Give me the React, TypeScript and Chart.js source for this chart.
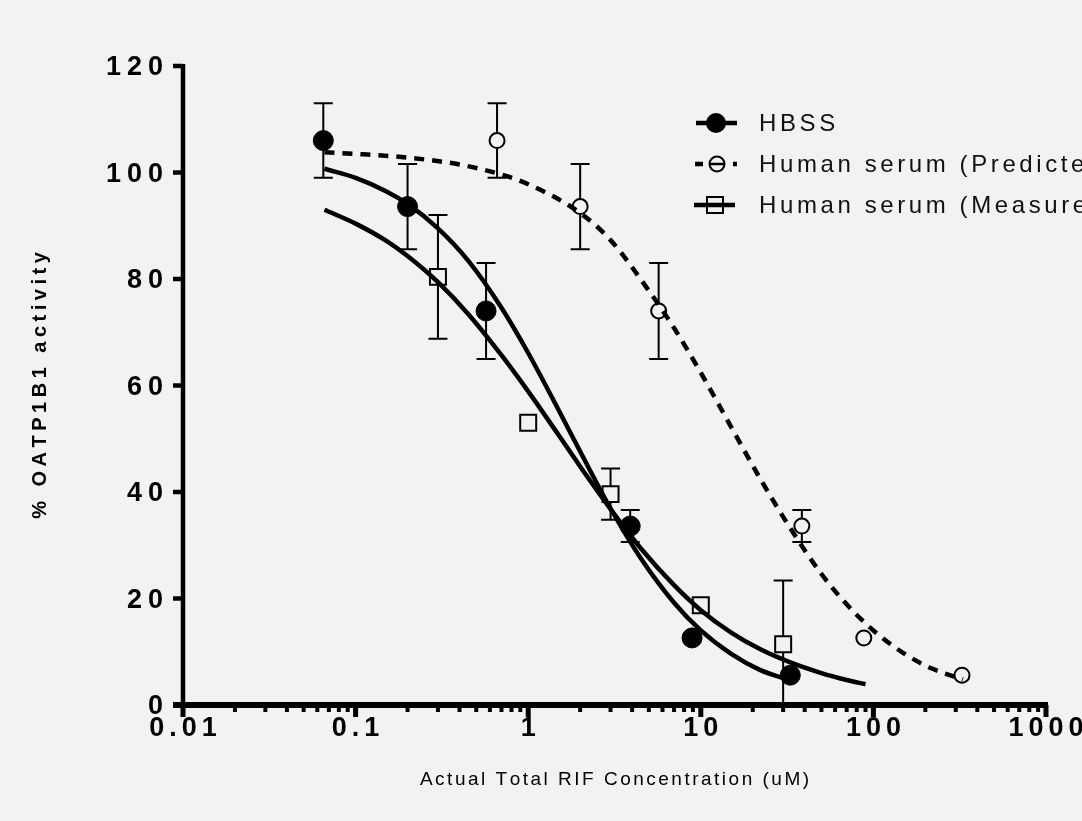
import React, { useEffect, useRef } from 'react';
import { Chart, registerables } from 'chart.js';

Chart.register(...registerables);

// ---------- data ----------
const hbssX = [0.065, 0.2, 0.57, 3.9, 8.9, 33];
const hbssY = [106, 93.6, 74, 33.6, 12.6, 5.6];
const hbssErr = [7, 8, 9, 3, 0, 0];

const predX = [0.66, 2.0, 5.7, 38.5, 88, 326];
const predY = [106, 93.6, 74, 33.6, 12.6, 5.6];
const predErr = [7, 8, 9, 3, 0, 0];

const measX = [0.3, 1, 3, 10, 30];
const measY = [80.4, 53, 39.6, 18.75, 11.4];
const measErr = [11.6, 0, 4.8, 0, 12];

// fitted curves
const hbssFitX = [0.066, 0.1, 0.15, 0.2, 0.3, 0.45, 0.7, 1, 1.5, 2, 3, 4.5, 7, 10, 15, 22, 33];
const hbssFitY = [100.7, 99, 96.5, 94.1, 89.5, 83.4, 74.6, 66.1, 55.4, 47.6, 36.9, 27.5, 19.2, 14, 9.6, 6.6, 4.6];

const measFitX = [0.066, 0.1, 0.15, 0.2, 0.3, 0.45, 0.7, 1, 1.5, 2, 3, 4.5, 7, 10, 15, 22, 33, 50, 70, 90];
const measFitY = [93, 90.4, 87.2, 84.3, 79.4, 73.4, 65.7, 58.9, 50.7, 44.8, 36.8, 29.4, 22.5, 17.8, 13.6, 10.5, 8.0, 6.0, 4.7, 3.9];

const predFitX = [0.066, 0.1, 0.2, 0.4, 0.7, 1, 2, 3, 5, 7, 10, 15, 22, 33, 50, 70, 100, 150, 220, 330];
const predFitY = [103.8, 103.5, 102.8, 101.5, 99.6, 97.8, 92.4, 87.3, 77.8, 70.8, 62.4, 52.2, 42.6, 33.2, 24.6, 18.9, 14, 9.7, 6.8, 4.8];

const xTickValues = [0.01, 0.1, 1, 10, 100, 1000];
const xTickLabels = ['0.01', '0.1', '1', '10', '100', '1000'];
const yTickValues = [0, 20, 40, 60, 80, 100, 120];
const yTickLabels = ['0', '20', '40', '60', '80', '100', '120'];

const legendLabels = ['HBSS', 'Human serum (Predicted)', 'Human serum (Measured)'];
const xTitle = 'Actual Total RIF Concentration (uM)';
const yTitle = '% OATP1B1 activity';

const BG = '#f2f2f2';
const FONT = "'Liberation Sans', Arial, sans-serif";

const pts = (xs: number[], ys: number[]) => xs.map((x, i) => ({ x, y: ys[i] }));

function spacedText(
  ctx: CanvasRenderingContext2D,
  text: string,
  x: number,
  y: number,
  spacing: number,
  align: 'left' | 'center' | 'right'
) {
  const chars = Array.from(text);
  const widths = chars.map((c) => ctx.measureText(c).width);
  const total = widths.reduce((a, b) => a + b, 0) + spacing * (chars.length - 1);
  let start = x;
  if (align === 'center') start = x - total / 2;
  else if (align === 'right') start = x - total;
  ctx.textAlign = 'left';
  let cx = start;
  chars.forEach((c, i) => {
    ctx.fillText(c, cx, y);
    cx += widths[i] + spacing;
  });
}

const bgPlugin = {
  id: 'bg',
  beforeDraw(chart: any) {
    const { ctx, width, height } = chart;
    ctx.save();
    ctx.fillStyle = BG;
    ctx.fillRect(0, 0, width, height);
    ctx.restore();
  },
};

const errorBarPlugin = {
  id: 'errbars',
  beforeDatasetsDraw(chart: any) {
    const { ctx, chartArea } = chart;
    const xs = chart.scales.x;
    const ys = chart.scales.y;
    ctx.save();
    ctx.strokeStyle = '#000';
    ctx.lineWidth = 2;
    const groups: [number[], number[], number[]][] = [
      [hbssX, hbssY, hbssErr],
      [predX, predY, predErr],
      [measX, measY, measErr],
    ];
    const cap = 9.5;
    groups.forEach(([gx, gy, ge]) => {
      gx.forEach((xv, i) => {
        const e = ge[i];
        if (!e) return;
        const px = xs.getPixelForValue(xv);
        const top = ys.getPixelForValue(gy[i] + e);
        const rawBot = ys.getPixelForValue(gy[i] - e);
        const bot = Math.min(rawBot, chartArea.bottom);
        ctx.beginPath();
        ctx.moveTo(px, top);
        ctx.lineTo(px, bot);
        ctx.moveTo(px - cap, top);
        ctx.lineTo(px + cap, top);
        if (rawBot <= chartArea.bottom) {
          ctx.moveTo(px - cap, rawBot);
          ctx.lineTo(px + cap, rawBot);
        }
        ctx.stroke();
      });
    });
    ctx.restore();
  },
};

const axesPlugin = {
  id: 'axes',
  afterDraw(chart: any) {
    const { ctx, chartArea } = chart;
    const xs = chart.scales.x;
    const ys = chart.scales.y;
    const { left, right, top, bottom } = chartArea;
    ctx.save();
    ctx.strokeStyle = '#000';
    ctx.fillStyle = '#000';
    ctx.lineCap = 'butt';

    // y axis line
    ctx.lineWidth = 4.5;
    ctx.beginPath();
    ctx.moveTo(left, top - 2);
    ctx.lineTo(left, bottom);
    ctx.stroke();
    // y ticks
    ctx.lineWidth = 4.5;
    yTickValues.forEach((v) => {
      const py = ys.getPixelForValue(v);
      ctx.beginPath();
      ctx.moveTo(left - 10, py);
      ctx.lineTo(left, py);
      ctx.stroke();
    });
    // x axis line
    ctx.lineWidth = 6;
    ctx.beginPath();
    ctx.moveTo(left - 10, bottom);
    ctx.lineTo(right + 2, bottom);
    ctx.stroke();
    // x minor ticks
    ctx.lineWidth = 4;
    for (let d = 0; d < xTickValues.length - 1; d++) {
      for (let m = 2; m <= 9; m++) {
        const px = xs.getPixelForValue(xTickValues[d] * m);
        ctx.beginPath();
        ctx.moveTo(px, bottom);
        ctx.lineTo(px, bottom + 7);
        ctx.stroke();
      }
    }
    // x major ticks
    ctx.lineWidth = 5;
    xTickValues.forEach((v) => {
      const px = xs.getPixelForValue(v);
      ctx.beginPath();
      ctx.moveTo(px, bottom);
      ctx.lineTo(px, bottom + 12);
      ctx.stroke();
    });

    // tick labels
    ctx.font = `bold 27px ${FONT}`;
    ctx.textBaseline = 'middle';
    yTickValues.forEach((v, i) => {
      spacedText(ctx, yTickLabels[i], left - 20, ys.getPixelForValue(v) + 2, 6, 'right');
    });
    xTickValues.forEach((v, i) => {
      spacedText(ctx, xTickLabels[i], xs.getPixelForValue(v), bottom + 24, 5, 'center');
    });

    // axis titles
    ctx.font = `19px ${FONT}`;
    spacedText(ctx, xTitle, (left + right) / 2, 780, 2.5, 'center');
    ctx.save();
    ctx.translate(40, (top + bottom) / 2);
    ctx.rotate(-Math.PI / 2);
    ctx.font = `bold 20px ${FONT}`;
    spacedText(ctx, yTitle, 0, 0, 4.5, 'center');
    ctx.restore();

    // legend
    const lx = 759;
    const rows = [123, 164, 205];
    ctx.font = `24px ${FONT}`;
    ctx.fillStyle = '#111';
    legendLabels.forEach((t, i) => spacedText(ctx, t, lx, rows[i] + 1, 3.6, 'left'));
    ctx.fillStyle = '#000';
    // row 1: HBSS
    ctx.lineWidth = 4.5;
    ctx.beginPath();
    ctx.moveTo(696, rows[0]);
    ctx.lineTo(737, rows[0]);
    ctx.stroke();
    ctx.beginPath();
    ctx.arc(716, rows[0], 10, 0, Math.PI * 2);
    ctx.fill();
    // row 2: predicted
    ctx.lineWidth = 4.5;
    ctx.beginPath();
    ctx.moveTo(695, rows[1]);
    ctx.lineTo(703, rows[1]);
    ctx.moveTo(733, rows[1]);
    ctx.lineTo(737, rows[1]);
    ctx.stroke();
    ctx.lineWidth = 2;
    ctx.beginPath();
    ctx.arc(717, rows[1], 7.5, 0, Math.PI * 2);
    ctx.stroke();
    ctx.lineWidth = 2.5;
    ctx.beginPath();
    ctx.moveTo(710, rows[1]);
    ctx.lineTo(724, rows[1]);
    ctx.stroke();
    // row 3: measured
    ctx.lineWidth = 2;
    ctx.fillStyle = BG;
    ctx.fillRect(707, rows[2] - 8, 16, 16);
    ctx.strokeRect(707, rows[2] - 8, 16, 16);
    ctx.lineWidth = 4.5;
    ctx.beginPath();
    ctx.moveTo(694, rows[2]);
    ctx.lineTo(735, rows[2]);
    ctx.stroke();

    ctx.restore();
  },
};

export default function App() {
  const ref = useRef<HTMLCanvasElement>(null);
  useEffect(() => {
    document.body.style.margin = '0';
    document.body.style.background = BG;
    const canvas = ref.current!;
    const chart = new Chart(canvas, {
      type: 'scatter',
      data: {
        datasets: [
          {
            label: 'HBSS fit',
            data: pts(hbssFitX, hbssFitY),
            showLine: true,
            borderColor: '#000',
            borderWidth: 4.5,
            pointRadius: 0,
            cubicInterpolationMode: 'monotone',
            order: 0,
          } as any,
          {
            label: 'Measured fit',
            data: pts(measFitX, measFitY),
            showLine: true,
            borderColor: '#000',
            borderWidth: 4.5,
            pointRadius: 0,
            cubicInterpolationMode: 'monotone',
            order: 0,
          },
          {
            label: 'Predicted fit',
            data: pts(predFitX, predFitY),
            showLine: true,
            borderColor: '#000',
            borderWidth: 4.5,
            borderDash: [10, 8],
            pointRadius: 0,
            cubicInterpolationMode: 'monotone',
            order: 0,
          },
          {
            label: 'HBSS',
            data: pts(hbssX, hbssY),
            showLine: false,
            pointStyle: 'circle',
            pointRadius: 10,
            backgroundColor: '#000',
            borderColor: '#000',
            borderWidth: 1,
            order: 1,
          },
          {
            label: 'Human serum (Predicted)',
            data: pts(predX, predY),
            showLine: false,
            pointStyle: 'circle',
            pointRadius: 7.5,
            backgroundColor: BG,
            borderColor: '#000',
            borderWidth: 2,
            order: 1,
          },
          {
            label: 'Human serum (Measured)',
            data: pts(measX, measY),
            showLine: false,
            pointStyle: 'rect',
            pointRadius: 11.3,
            backgroundColor: BG,
            borderColor: '#000',
            borderWidth: 2,
            order: 1,
          },
        ],
      },
      options: {
        responsive: false,
        animation: false,
        devicePixelRatio: 1,
        layout: { padding: { left: 183, right: 36, top: 66, bottom: 116 } },
        plugins: { legend: { display: false }, tooltip: { enabled: false } },
        events: [],
        scales: {
          x: { type: 'logarithmic', min: 0.01, max: 1000, display: false },
          y: { type: 'linear', min: 0, max: 120, display: false },
        },
      },
      plugins: [bgPlugin, errorBarPlugin, axesPlugin],
    });
    return () => chart.destroy();
  }, []);
  return (
    <div style={{ position: 'absolute', left: 0, top: 0, width: 1082, height: 821, background: BG }}>
      <canvas ref={ref} width={1082} height={821} style={{ display: 'block' }} />
    </div>
  );
}
